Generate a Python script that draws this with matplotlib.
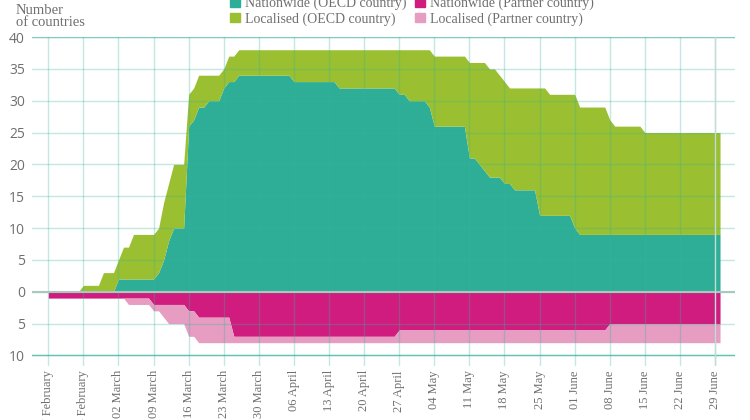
""" Countries with school closures: OECD and partner countries, stacked around zero. """

import matplotlib
matplotlib.use("Agg")
import matplotlib.pyplot as plt
import matplotlib.dates as mdates
from matplotlib.patches import Patch
import numpy as np
import pandas

# daily counts from 17 February, one row per week
oecd_nationwide = [
    0, 0, 0, 0, 0, 0, 0,
    0, 0, 0, 0, 0, 0, 0,
    2, 2, 2, 2, 2, 2, 2,
    2, 3, 5, 8, 10, 10, 10,
    26, 27, 29, 29, 30, 30, 30,
    32, 33, 33, 34, 34, 34, 34,
    34, 34, 34, 34, 34, 34, 34,
    33, 33, 33, 33, 33, 33, 33,
    33, 33, 32, 32, 32, 32, 32,
    32, 32, 32, 32, 32, 32, 32,
    31, 31, 30, 30, 30, 30, 29,
    26, 26, 26, 26, 26, 26, 26,
    21, 21, 20, 19, 18, 18, 18,
    17, 17, 16, 16, 16, 16, 16,
    12, 12, 12, 12, 12, 12, 12,
    10, 9, 9, 9, 9, 9, 9,
    9, 9, 9, 9, 9, 9, 9,
    9, 9, 9, 9, 9, 9, 9,
    9, 9, 9, 9, 9, 9, 9,
    9, 9,
]
oecd_total = [
    0, 0, 0, 0, 0, 0, 0,
    1, 1, 1, 1, 3, 3, 3,
    5, 7, 7, 9, 9, 9, 9,
    9, 10, 14, 17, 20, 20, 20,
    31, 32, 34, 34, 34, 34, 34,
    35, 37, 37, 38, 38, 38, 38,
    38, 38, 38, 38, 38, 38, 38,
    38, 38, 38, 38, 38, 38, 38,
    38, 38, 38, 38, 38, 38, 38,
    38, 38, 38, 38, 38, 38, 38,
    38, 38, 38, 38, 38, 38, 38,
    37, 37, 37, 37, 37, 37, 37,
    36, 36, 36, 36, 35, 35, 34,
    33, 32, 32, 32, 32, 32, 32,
    32, 32, 31, 31, 31, 31, 31,
    31, 29, 29, 29, 29, 29, 29,
    27, 26, 26, 26, 26, 26, 26,
    25, 25, 25, 25, 25, 25, 25,
    25, 25, 25, 25, 25, 25, 25,
    25, 25,
]
partner_nationwide = [
    1, 1, 1, 1, 1, 1, 1,
    1, 1, 1, 1, 1, 1, 1,
    1, 1, 1, 1, 1, 1, 1,
    2, 2, 2, 2, 2, 2, 2,
    3, 3, 4, 4, 4, 4, 4,
    4, 4, 7, 7, 7, 7, 7,
    7, 7, 7, 7, 7, 7, 7,
    7, 7, 7, 7, 7, 7, 7,
    7, 7, 7, 7, 7, 7, 7,
    7, 7, 7, 7, 7, 7, 7,
    6, 6, 6, 6, 6, 6, 6,
    6, 6, 6, 6, 6, 6, 6,
    6, 6, 6, 6, 6, 6, 6,
    6, 6, 6, 6, 6, 6, 6,
    6, 6, 6, 6, 6, 6, 6,
    6, 6, 6, 6, 6, 6, 6,
    5, 5, 5, 5, 5, 5, 5,
    5, 5, 5, 5, 5, 5, 5,
    5, 5, 5, 5, 5, 5, 5,
    5, 5,
]
partner_total = [
    1, 1, 1, 1, 1, 1, 1,
    1, 1, 1, 1, 1, 1, 1,
    1, 1, 2, 2, 2, 2, 2,
    3, 3, 4, 5, 5, 5, 5,
    7, 7, 8, 8, 8, 8, 8,
    8, 8, 8, 8, 8, 8, 8,
    8, 8, 8, 8, 8, 8, 8,
    8, 8, 8, 8, 8, 8, 8,
    8, 8, 8, 8, 8, 8, 8,
    8, 8, 8, 8, 8, 8, 8,
    8, 8, 8, 8, 8, 8, 8,
    8, 8, 8, 8, 8, 8, 8,
    8, 8, 8, 8, 8, 8, 8,
    8, 8, 8, 8, 8, 8, 8,
    8, 8, 8, 8, 8, 8, 8,
    8, 8, 8, 8, 8, 8, 8,
    8, 8, 8, 8, 8, 8, 8,
    8, 8, 8, 8, 8, 8, 8,
    8, 8, 8, 8, 8, 8, 8,
    8, 8,
]
legend_labels = ["Nationwide (OECD country)", "Localised (OECD country)",
                 "Nationwide (Partner country)", "Localised (Partner country)"]
y_ticks = [40, 35, 30, 25, 20, 15, 10, 5, 0, -5, -10]

days = pandas.date_range("2020-02-17", periods=len(oecd_total), freq="D")
week_ticks = pandas.date_range("2020-02-17", "2020-06-29", freq="7D")

colors = ["#2fae97", "#9abf30", "#d11c7f", "#e79cc2"]
textcolor = "#6f6f6f"
gridcolor = "#35b5a0"
font = "Liberation Serif"

fig = plt.figure(figsize=(7.5, 4.2), dpi=100)
# axes box in pixels: x 32-735, y 37-366 from the top
ax = fig.add_axes([32/750, 1-366/420, (735-32)/750, (366-37)/420])

x = mdates.date2num(days)
ax.fill_between(x, 0, oecd_nationwide, color=colors[0], lw=0)
ax.fill_between(x, oecd_nationwide, oecd_total, color=colors[1], lw=0)
ax.fill_between(x, 0, -np.array(partner_nationwide), color=colors[2], lw=0)
ax.fill_between(x, -np.array(partner_nationwide), -np.array(partner_total),
                color=colors[3], lw=0)

per_day = 5.013
ax.set_xlim(x[0] - 16.3/per_day, x[0] + (735-48.3)/per_day)
ax.set_ylim(-(366-291.7)/6.37, 40)

ax.set_xticks(mdates.date2num(week_ticks))
ax.set_xticklabels([d.strftime("%d %B") for d in week_ticks], rotation=90,
                   fontsize=9, family=font, color=textcolor)
ax.set_yticks(y_ticks)
ax.set_yticklabels([str(abs(v)) for v in y_ticks], fontsize=10, family="Open Sans",
                   color=textcolor)
ax.tick_params(length=0)
ax.tick_params(axis="x", pad=3)
ax.tick_params(axis="y", pad=5)

ax.set_axisbelow(False)
ax.grid(True, color=gridcolor, alpha=0.3, lw=1)
ax.axhline(0, color="#a9c9bf", lw=1.5, zorder=3)
ax.axhline(40, color=gridcolor, alpha=0.5, lw=1, zorder=3)
ax.axhline(-10, color=gridcolor, alpha=0.7, lw=1, zorder=3)
ax.axvline(x[-2], color="#c4dcd5", lw=1, zorder=3)
for s in ax.spines.values():
    s.set_visible(False)

fig.text(15.5/750, 1-16.5/420, "Number\nof countries", fontsize=10.5, family=font,
         color=textcolor, va="center", ha="left", linespacing=0.85)

handles = [Patch(color=c) for c in colors]
fig.legend(handles, legend_labels, ncol=2, frameon=False, loc="upper left",
           bbox_to_anchor=(230/750, 1+3.5/420), borderpad=0, borderaxespad=0,
           prop={"family": font, "size": 10}, labelcolor=textcolor,
           handlelength=0.7, handleheight=0.7, handletextpad=0.35,
           columnspacing=0.65, labelspacing=0.15)

fig.savefig("out.png", dpi=100)
